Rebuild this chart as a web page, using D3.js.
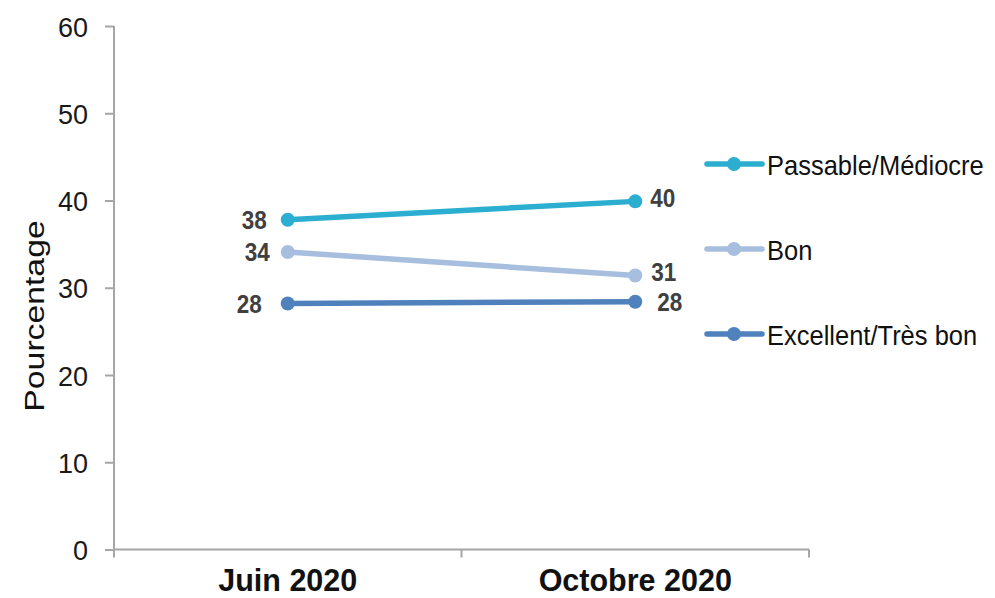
<!DOCTYPE html>
<html><head><meta charset="utf-8">
<script src="https://cdn.jsdelivr.net/npm/d3@7"></script>
<style>
body{margin:0;background:#fff;}
text{font-family:"Liberation Sans",Arial,sans-serif;}
</style></head>
<body><svg id="c" width="995" height="598"></svg>
<script>
const categories = ["Juin 2020", "Octobre 2020"];
const seriesNames = ["Passable/Médiocre", "Bon", "Excellent/Très bon"];
const passable = [37.8, 39.9];
const bon = [34.1, 31.4];
const excellent = [28.2, 28.4];
const passableLabels = ["38", "40"];
const bonLabels = ["34", "31"];
const excellentLabels = ["28", "28"];
const yTicks = [0, 10, 20, 30, 40, 50, 60];
const colors = ["#2BAED0", "#A7BEDF", "#4F81BD"];

const series = [
  {name: seriesNames[0], values: passable, labels: passableLabels, color: colors[0]},
  {name: seriesNames[1], values: bon, labels: bonLabels, color: colors[1]},
  {name: seriesNames[2], values: excellent, labels: excellentLabels, color: colors[2]}
];

const svg = d3.select("#c");
const mLeft = 114, mRight = 809, mTop = 26, mBottom = 549.5;

const y = d3.scaleLinear().domain([0, 60]).range([mBottom, mTop]);
const xb = d3.scaleBand().domain(categories).range([mLeft, mRight]);
const xc = c => xb(c) + xb.bandwidth() / 2;

function sText(parent, x, yb, str, size, sy, anchor, weight, fill) {
  return parent.append("text")
    .attr("transform", `translate(${x},${yb}) scale(1,${sy})`)
    .attr("text-anchor", anchor).attr("font-size", size)
    .attr("font-weight", weight).attr("fill", fill).text(str);
}

// y axis
const ya = svg.append("g").attr("transform", `translate(${mLeft},0)`)
  .call(d3.axisLeft(y).tickValues(yTicks).tickSize(9).tickFormat(""));
ya.select(".domain").attr("stroke", "#A6A6A6").attr("stroke-width", 2).attr("d", `M0,${mBottom}V${mTop}`);
ya.selectAll(".tick line").attr("stroke", "#A6A6A6").attr("stroke-width", 2);
yTicks.forEach(t => sText(svg, 88, y(t) + 10.5, d3.format("d")(t), 27, 1.05, "end", "normal", "#1a1a1a"));

// x axis
const xa = svg.append("g").attr("transform", `translate(0,${mBottom})`)
  .call(d3.axisBottom(xb).tickSize(0).tickFormat(""));
xa.select(".domain").attr("stroke", "#A6A6A6").attr("stroke-width", 2).attr("d", `M${mLeft},0H${mRight}`);
const bounds = categories.map(c => xb(c)).concat([mRight]);
xa.selectAll(".bt").data(bounds).enter().append("line")
  .attr("x1", d => d).attr("x2", d => d).attr("y1", 0).attr("y2", 8)
  .attr("stroke", "#A6A6A6").attr("stroke-width", 2);
categories.forEach(c => sText(svg, xc(c), 591, c, 30.5, 1.0, "middle", "bold", "#111"));

// y title
svg.append("text").attr("transform", `translate(44,316) rotate(-90) scale(1.25,1)`)
  .attr("text-anchor", "middle").attr("font-size", 27).attr("fill", "#111").text("Pourcentage");

// lines
const line = d3.line().x((d, i) => xc(categories[i])).y(d => y(d));
series.forEach(s => {
  svg.append("path").attr("d", line(s.values)).attr("fill", "none")
    .attr("stroke", s.color).attr("stroke-width", 5.5).attr("stroke-linecap", "round");
  svg.selectAll(null).data(s.values).enter().append("circle")
    .attr("cx", (d, i) => xc(categories[i])).attr("cy", d => y(d)).attr("r", 7).attr("fill", s.color);
});

// data labels: [dx left, dx right], [dy left, dy right]
const lblDx = [[-21, 15], [-18, 16], [-26, 22]];
const lblDy = [[0, -4], [0, -4], [0, 0]];
series.forEach((s, si) => {
  s.values.forEach((v, i) => {
    const x = xc(categories[i]) + lblDx[si][i];
    sText(svg, x, y(v) + lblDy[si][i] + 9.5, s.labels[i], 22.5, 1.18,
      i === 0 ? "end" : "start", "bold", "#404040");
  });
});

// legend
const legY = [164, 249, 334];
series.forEach((s, i) => {
  const g = svg.append("g").attr("transform", `translate(707,${legY[i]})`);
  g.append("line").attr("x1", 0).attr("x2", 55).attr("stroke", s.color).attr("stroke-width", 5.5).attr("stroke-linecap", "round");
  g.append("circle").attr("cx", 27).attr("cy", 0).attr("r", 7).attr("fill", s.color);
  sText(g, 60, 10.5, s.name, 25.5, 1.12, "start", "normal", "#111");
});
</script></body></html>
